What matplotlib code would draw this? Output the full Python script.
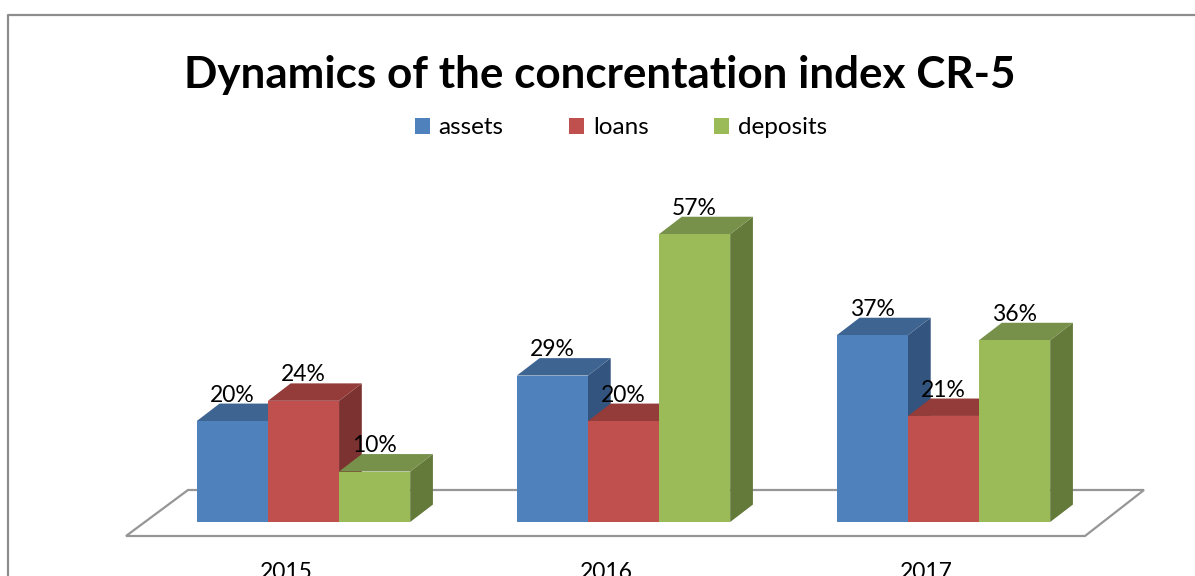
import matplotlib.pyplot as plt
from matplotlib.patches import Polygon, Patch

# CR-5 concentration index, share in %
years = ["2015", "2016", "2017"]
series = ["assets", "loans", "deposits"]
assets = [20, 29, 37]
loans = [24, 20, 21]
deposits = [10, 57, 36]

front_colors = ["#4F81BD", "#C0504D", "#9BBB59"]
top_colors = ["#3E6491", "#943C3A", "#77904A"]
side_colors = ["#32547E", "#7C3231", "#647A3A"]

plt.rcParams['font.family'] = ['Lato', 'DejaVu Sans']

W, H = 1195, 576
fig = plt.figure(figsize=(W / 100, H / 100), dpi=100)
ax = fig.add_axes([0, 0, 1, 1])

# pixel layout -> data units (x: one unit per year group, y: percent)
X0, GX = 303.5, 320.0
Y0, PY = 522.0, 5.05


def px(p):
    return (p - X0) / GX


def py(r):
    return (Y0 - r) / PY


ax.set_xlim(px(0), px(W))
ax.set_ylim(py(H), py(0))
ax.axis("off")

bar_w = 1 / 4.5
depth_x = 0.32 * bar_w
depth_y = 3.45

# outer frame
ax.plot([px(8), px(8), px(W + 5)], [py(H + 5), py(15), py(15)],
        color="#8C8C8C", lw=1.6, solid_capstyle="butt")

# floor of the 3-D plot area
floor = [(px(126), py(536)), (px(1085), py(536)),
         (px(1144), py(490)), (px(188), py(490))]
ax.add_patch(Polygon(floor, closed=True, facecolor="white",
                     edgecolor="#969696", lw=1.6, zorder=1))

values = [assets, loans, deposits]
z = 2
for g in range(len(years)):
    for s in range(len(series)):
        v = values[s][g]
        x = g - 1.5 * bar_w + s * bar_w
        side = [(x + bar_w, 0), (x + bar_w + depth_x, depth_y),
                (x + bar_w + depth_x, v + depth_y), (x + bar_w, v)]
        top = [(x, v), (x + bar_w, v),
               (x + bar_w + depth_x, v + depth_y), (x + depth_x, v + depth_y)]
        front = [(x, 0), (x + bar_w, 0), (x + bar_w, v), (x, v)]
        ax.add_patch(Polygon(side, closed=True, facecolor=side_colors[s],
                             edgecolor="none", zorder=z))
        ax.add_patch(Polygon(top, closed=True, facecolor=top_colors[s],
                             edgecolor="none", zorder=z + 1))
        ax.add_patch(Polygon(front, closed=True, facecolor=front_colors[s],
                             edgecolor="none", zorder=z + 2))
        z += 3

# value labels
for g in range(len(years)):
    for s in range(len(series)):
        v = values[s][g]
        x = g - 1.5 * bar_w + (s + 0.5) * bar_w
        ax.text(x, v + depth_y + 0.4, f"{v}%", ha="center", va="baseline",
                fontsize=16.5, color="black", zorder=100)

# category labels (partly below the lower edge of the figure)
for g, yr in enumerate(years):
    ax.text(g - 0.055, py(562), yr, ha="center", va="top",
            fontsize=16.5, color="black")

ax.text(px(600), py(88), "Dynamics of the concrentation index CR-5",
        ha="center", va="baseline", fontsize=31.7, fontweight="bold")

handles = [Patch(facecolor=c, edgecolor="none") for c in front_colors]
ax.legend(handles, series, loc="center", ncol=3, frameon=False,
          bbox_to_anchor=(621 / W, 1 - 128 / H), fontsize=17.5,
          handlelength=0.62, handleheight=0.62, handletextpad=0.35,
          columnspacing=2.7)

fig.savefig("out.png", dpi=100)
